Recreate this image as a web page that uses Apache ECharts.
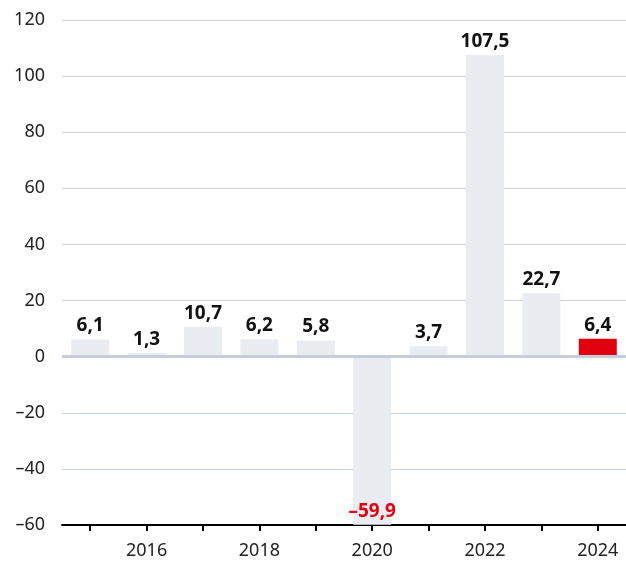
<!DOCTYPE html>
<html><head><meta charset="utf-8">
<script src="https://cdn.jsdelivr.net/npm/echarts@6/dist/echarts.min.js"></script>
<style>html,body{margin:0;padding:0;background:#fff}#c{width:626px;height:562px}</style>
</head><body><div id="c"></div>
<script>
const years = ['2015','2016','2017','2018','2019','2020','2021','2022','2023','2024'];
const values = [6.1, 1.3, 10.7, 6.2, 5.8, -59.9, 3.7, 107.5, 22.7, 6.4];
const yTicks = {min: -60, max: 120, interval: 20};

const FONT = '"Noto Sans", sans-serif';
const fmt = v => String(v).replace('.', ',').replace('-', '–');

const data = values.map((v, i) => {
  const last = i === values.length - 1;
  const neg = v < 0;
  return {
    value: v,
    itemStyle: {color: last ? '#e2000f' : '#e9ecf1'},
    label: neg ? {position: 'insideBottom', distance: 4, color: '#e2000f'} : {}
  };
});

const chart = echarts.init(document.getElementById('c'), null, {renderer: 'canvas'});
chart.setOption({
  animation: false,
  grid: {left: 62, right: 0, top: 20, bottom: 37, containLabel: false},
  xAxis: {
    type: 'category',
    data: years,
    axisLine: {show: true, onZero: false, lineStyle: {color: '#000', width: 2}},
    axisTick: {show: true, alignWithLabel: true, interval: 0, length: 6, lineStyle: {color: '#000', width: 2}},
    axisLabel: {
      interval: 0,
      formatter: (v, i) => (i % 2 === 1 ? v : ''),
      color: '#222', fontSize: 18, fontFamily: FONT, margin: 17
    }
  },
  yAxis: {
    type: 'value',
    min: yTicks.min, max: yTicks.max, interval: yTicks.interval,
    axisLine: {show: false},
    axisTick: {show: false},
    axisLabel: {color: '#222', fontSize: 18, fontFamily: FONT, margin: 17,
      formatter: v => String(v).replace('-', '–')},
    splitLine: {lineStyle: {color: '#c6d4e3', width: 1}}
  },
  series: [{
    type: 'bar',
    data: data,
    barWidth: 38,
    label: {
      show: true, position: 'top', distance: 4,
      color: '#111', fontWeight: 'bold', fontSize: 19, fontFamily: FONT,
      formatter: p => fmt(p.value)
    },
    markLine: {
      silent: true, symbol: 'none', label: {show: false},
      lineStyle: {color: '#c4cedb', width: 3, type: 'solid'},
      data: [{yAxis: 0}]
    }
  }]
});
</script></body></html>
